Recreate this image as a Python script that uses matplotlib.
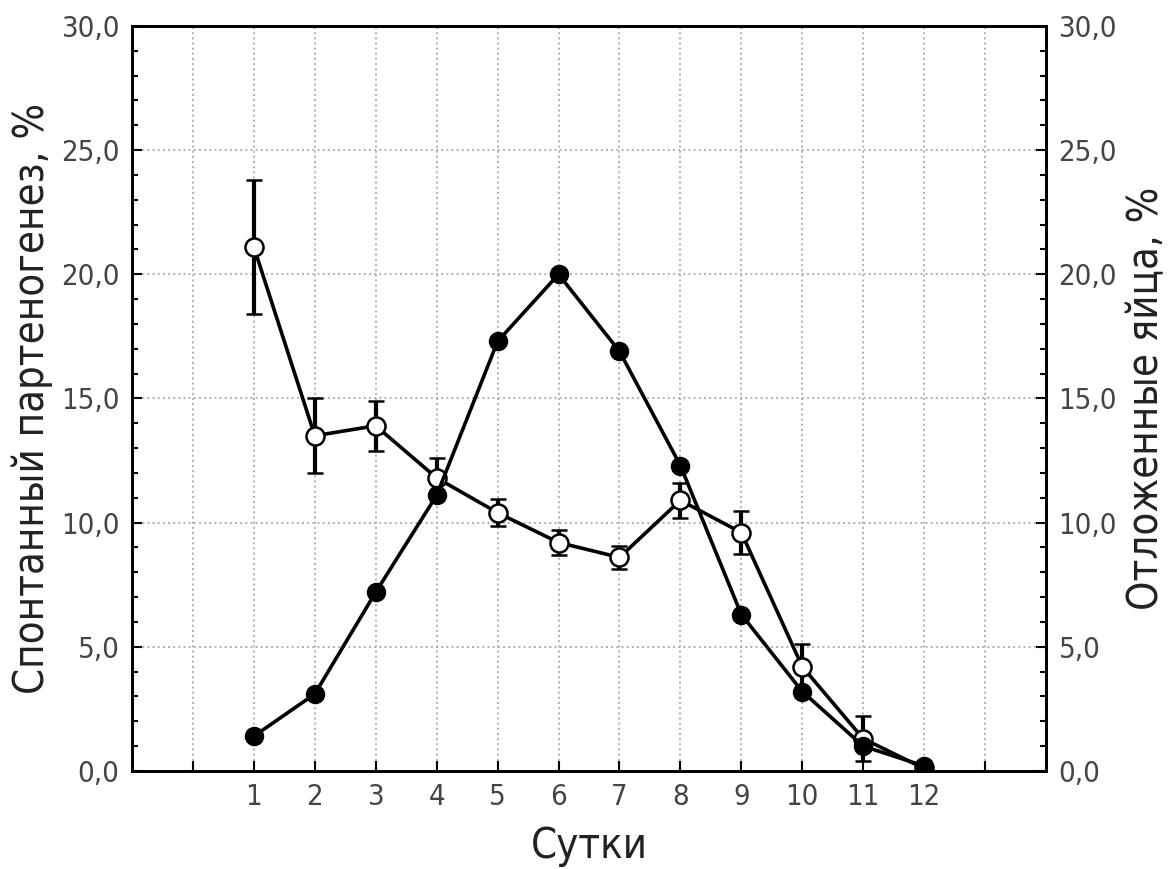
import numpy as np
import matplotlib
matplotlib.use("Agg")
import matplotlib.pyplot as plt
from matplotlib.ticker import MultipleLocator, FuncFormatter

plt.rcParams['font.family'] = ['DejaVu Sans']
plt.rcParams['font.stretch'] = 'condensed'

# data
days = [1, 2, 3, 4, 5, 6, 7, 8, 9, 10, 11, 12]
partheno = [21.1, 13.5, 13.9, 11.8, 10.4, 9.2, 8.6, 10.9, 9.6, 4.2, 1.3, 0.1]
partheno_err = [2.7, 1.5, 1.0, 0.8, 0.55, 0.5, 0.45, 0.7, 0.85, 0.9, 0.9, 0.1]
eggs = [1.4, 3.1, 7.2, 11.1, 17.3, 20.0, 16.9, 12.3, 6.3, 3.2, 1.0, 0.2]

x_ticks = list(range(0, 14))
x_labels = ['' if t < 1 or t > 12 else str(t) for t in x_ticks]

fig = plt.figure(figsize=(11.69, 8.69), dpi=100)
ax = fig.add_axes([0.1129, 0.1128, 0.7819, 0.8573])
ax2 = ax.twinx()

ax.errorbar(days, partheno, yerr=partheno_err, color='black', lw=2.6,
            marker='o', ms=13, mfc='white', mec='black', mew=1.8,
            ecolor='black', elinewidth=3, capsize=6, capthick=3, zorder=3)
ax2.plot(days, eggs, color='black', lw=2.6, marker='o', ms=13,
         mfc='black', mec='black', zorder=3)

comma = FuncFormatter(lambda v, p: f"{v:.1f}".replace('.', ','))
for a in (ax, ax2):
    a.set_ylim(0, 30)
    a.yaxis.set_major_locator(MultipleLocator(5))
    a.yaxis.set_minor_locator(MultipleLocator(1))
    a.yaxis.set_major_formatter(comma)
    a.tick_params(axis='both', which='both', direction='in', labelsize=21,
                  labelcolor='#444444', width=1.5, pad=9)
    a.tick_params(which='major', length=7)
    a.tick_params(which='minor', length=4)
    for s in a.spines.values():
        s.set_linewidth(2)

ax.set_xlim(-1, 14)
ax.set_xticks(x_ticks)
ax.set_xticklabels(x_labels)
ax.grid(True, which='major', color='#b0b0b0', linestyle=':', linewidth=1.4)
ax.set_axisbelow(True)

ax.set_xlabel('Сутки', fontsize=30, color='#222222', labelpad=10)
ax.set_ylabel('Спонтанный партеногенез, %', fontsize=30, color='#222222', labelpad=6)
ax2.set_ylabel('Отложенные яйца, %', fontsize=30, color='#222222', labelpad=6)

fig.savefig('out.png', dpi=100)
